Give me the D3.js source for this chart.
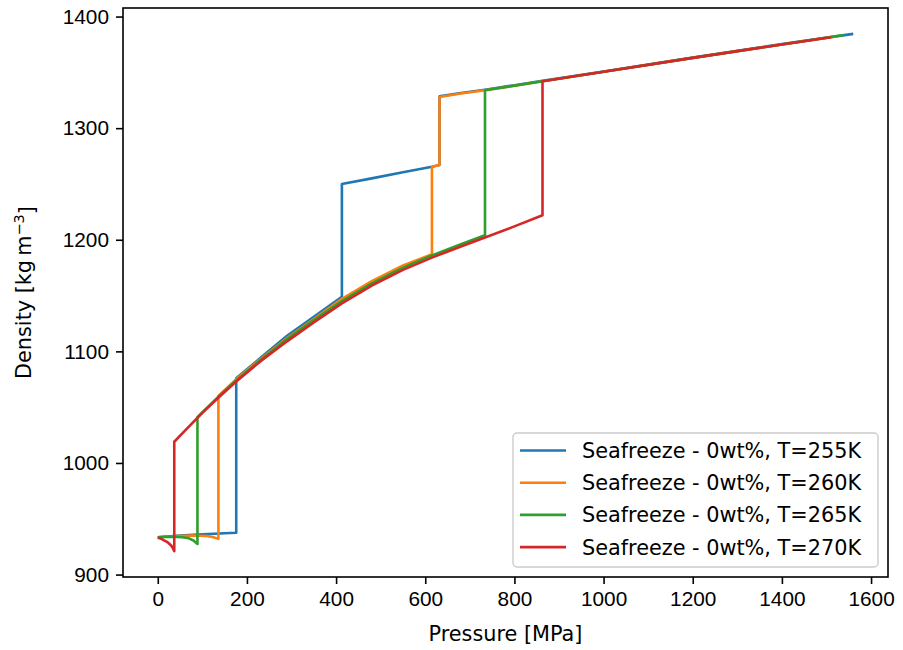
<!DOCTYPE html>
<html>
<head>
<meta charset="utf-8">
<script src="https://cdn.jsdelivr.net/npm/d3@7"></script>
<style>
  body { margin: 0; background: #fff; }
  svg { font-family: 'DejaVu Sans', sans-serif; }
  .axis text { font-size: 20.8px; fill: #000; }
  .axis path, .axis line { stroke: #000; stroke-width: 1.6px; }
</style>
</head>
<body>
<div id="chart"></div>
<script>
// temperatures of the four Seafreeze runs
var temperatures = [255, 260, 265, 270]
var colors = ['#1f77b4', '#ff7f0e', '#2ca02c', '#d62728']

// pressure [MPa] / density [kg m-3] (repeated pressure = phase jump)
var pressure255 = [0, 50, 100, 150, 176, 176, 230, 290, 350, 413, 413, 480, 550, 615, 632, 632, 680, 734, 800, 863, 1000, 1200, 1400, 1560]
var density255  = [933.5, 935, 936, 937, 937.5, 1076, 1094, 1114, 1131, 1149, 1250, 1255, 1260.5, 1265.5, 1267, 1328.5, 1331.5, 1334.5, 1338.5, 1342.5, 1350.8, 1363.2, 1375.4, 1384.5]

var pressure260 = [0, 40, 80, 110, 125, 136, 136, 176, 230, 290, 350, 413, 480, 550, 615, 615, 632, 632, 680, 734, 800, 863, 1000, 1200, 1400, 1525]
var density260  = [933.5, 934.5, 935, 934.5, 933.5, 932, 1060, 1075, 1093, 1112, 1129, 1147, 1163, 1177, 1187, 1265.5, 1267, 1328, 1331, 1334, 1338, 1342, 1350.5, 1363, 1375, 1382.5]

var pressure265 = [0, 30, 55, 70, 80, 89, 89, 140, 176, 230, 290, 350, 413, 480, 550, 615, 680, 734, 734, 800, 863, 1000, 1200, 1400, 1540]
var density265  = [933.5, 934, 933.5, 932.5, 930.5, 927.5, 1041, 1061, 1074, 1092, 1111, 1128, 1145, 1161, 1175, 1186, 1196, 1204, 1334, 1338, 1342, 1350.5, 1363, 1375, 1383.5]

var pressure270 = [0, 8, 15, 22, 30, 34, 37, 37, 60, 100, 140, 176, 230, 290, 350, 413, 480, 550, 615, 680, 734, 800, 863, 863, 1000, 1200, 1400, 1510]
var density270  = [933, 932, 930.5, 929, 926, 923.5, 921, 1019, 1028.5, 1045, 1060, 1073, 1091, 1109, 1126, 1143, 1159, 1173, 1184, 1194, 1202, 1212, 1222, 1342, 1350.5, 1363, 1375, 1381.5]

var xTicks = [0, 200, 400, 600, 800, 1000, 1200, 1400, 1600]
var yTicks = [900, 1000, 1100, 1200, 1300, 1400]

var pressures = [pressure255, pressure260, pressure265, pressure270]
var densities = [density255, density260, density265, density270]

var series = temperatures.map(function(t, i) {
  return {
    label: 'Seafreeze - 0wt%, T=' + t + 'K',
    color: colors[i],
    points: d3.zip(pressures[i], densities[i])
  }
})

var baseWidth = 903, baseHeight = 650
var box = { left: 123, right: 888, top: 8, bottom: 577 }

var svg = d3.select('#chart').append('svg')
    .attr('width', baseWidth)
    .attr('height', baseHeight)

// matplotlib-style 5% padding around the data
function padded(ext) {
  var m = (ext[1] - ext[0]) * 0.05
  return [ext[0] - m, ext[1] + m]
}
var allPoints = series.flatMap(function(s) { return s.points })
var xScale = d3.scaleLinear()
    .domain(padded(d3.extent(allPoints, function(d) { return d[0] })))
    .range([box.left, box.right])
var yScale = d3.scaleLinear()
    .domain(padded(d3.extent(allPoints, function(d) { return d[1] })))
    .range([box.bottom, box.top])

svg.append('defs').append('clipPath').attr('id', 'clip')
  .append('rect')
    .attr('x', box.left).attr('y', box.top)
    .attr('width', box.right - box.left)
    .attr('height', box.bottom - box.top)

var line = d3.line()
    .x(function(d) { return xScale(d[0]) })
    .y(function(d) { return yScale(d[1]) })

svg.append('g').attr('clip-path', 'url(#clip)')
  .selectAll('path').data(series)
  .enter().append('path')
    .attr('d', function(d) { return line(d.points) })
    .attr('fill', 'none')
    .attr('stroke', function(d) { return d.color })
    .attr('stroke-width', 2.6)
    .attr('stroke-linejoin', 'round')

var fmt = d3.format('d')

svg.append('g').attr('class', 'axis')
    .attr('transform', 'translate(0,' + box.bottom + ')')
    .call(d3.axisBottom(xScale).tickValues(xTicks).tickFormat(fmt).tickSize(7).tickPadding(7).tickSizeOuter(0))
    .call(function(g) { g.select('.domain').remove() })

svg.append('g').attr('class', 'axis')
    .attr('transform', 'translate(' + box.left + ',0)')
    .call(d3.axisLeft(yScale).tickValues(yTicks).tickFormat(fmt).tickSize(7).tickPadding(7).tickSizeOuter(0))
    .call(function(g) { g.select('.domain').remove() })

// frame
svg.append('rect')
    .attr('x', box.left).attr('y', box.top)
    .attr('width', box.right - box.left)
    .attr('height', box.bottom - box.top)
    .attr('fill', 'none')
    .attr('stroke', '#000')
    .attr('stroke-width', 1.6)

svg.append('text')
    .attr('x', (box.left + box.right) / 2)
    .attr('y', 641)
    .attr('text-anchor', 'middle')
    .style('font-size', '20.8px')
    .text('Pressure [MPa]')

var ylab = svg.append('text')
    .attr('transform', 'translate(31,' + (box.top + box.bottom) / 2 + ') rotate(-90)')
    .attr('text-anchor', 'middle')
    .style('font-size', '20.8px')
ylab.append('tspan').text('Density [kg\u2009m')
ylab.append('tspan').attr('dy', '-0.45em').style('font-size', '14.5px').text('\u22123')
ylab.append('tspan').attr('dy', '0.45em').text(']')

// legend
var legend = svg.append('g').attr('transform', 'translate(513,433)')
legend.append('rect')
    .attr('width', 365).attr('height', 134)
    .attr('rx', 4)
    .attr('fill', '#fff').attr('fill-opacity', 0.8)
    .attr('stroke', '#cccccc').attr('stroke-width', 1.4)

var item = legend.selectAll('g.item').data(series)
  .enter().append('g')
    .attr('class', 'item')
    .attr('transform', function(d, i) { return 'translate(0,' + (17.5 + i * 32.2) + ')' })
item.append('line')
    .attr('x1', 7).attr('x2', 53)
    .attr('stroke', function(d) { return d.color })
    .attr('stroke-width', 2.6)
item.append('text')
    .attr('x', 69)
    .attr('dy', '0.36em')
    .style('font-size', '20.8px')
    .text(function(d) { return d.label })
</script>
</body>
</html>
